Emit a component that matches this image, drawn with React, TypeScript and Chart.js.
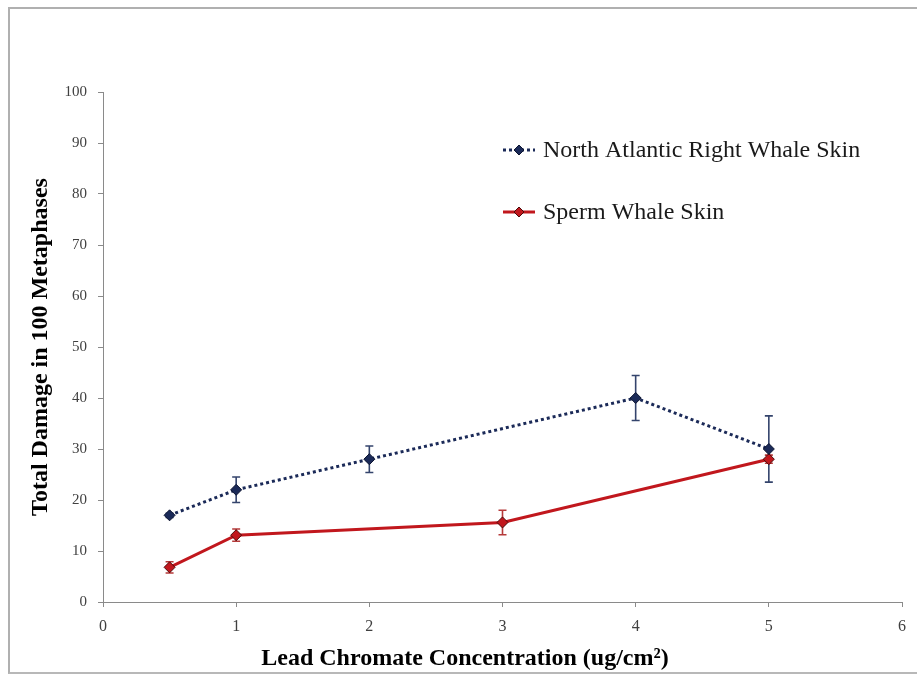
import React, { useEffect, useRef } from "react";
import { Chart, registerables } from "chart.js";

Chart.register(...registerables);

const narwConc = [0.5, 1, 2, 4, 5];
const narwValues = [17, 22, 28, 40, 30];
const narwErrors = [0.4, 2.5, 2.6, 4.4, 6.5];

const spermConc = [0.5, 1, 3, 5];
const spermValues = [6.8, 13.1, 15.6, 28];
const spermErrors = [1.1, 1.2, 2.4, 0.8];

const seriesLabels = ["North Atlantic Right Whale Skin", "Sperm Whale Skin"];
const xTitle = "Lead Chromate Concentration (ug/cm²)";
const yTitle = "Total Damage in 100 Metaphases";

const FONT = "'Liberation Serif', 'Times New Roman', serif";
const NAVY = "#1b2a58";
const NAVY_DARK = "#0c1430";
const RED = "#c1171d";
const RED_DARK = "#4a0a0a";

function drawDiamond(ctx: CanvasRenderingContext2D, x: number, y: number, r: number, fill: string, stroke: string) {
  ctx.beginPath();
  ctx.moveTo(x, y - r);
  ctx.lineTo(x + r, y);
  ctx.lineTo(x, y + r);
  ctx.lineTo(x - r, y);
  ctx.closePath();
  ctx.fillStyle = fill;
  ctx.fill();
  ctx.lineWidth = 1;
  ctx.strokeStyle = stroke;
  ctx.stroke();
}

const errorBarPlugin = {
  id: "errorBars",
  beforeDatasetsDraw(chart: any) {
    const ctx = chart.ctx;
    const xs = chart.scales.x;
    const ys = chart.scales.y;
    chart.data.datasets.forEach((ds: any) => {
      const errs: number[] = ds.errors || [];
      ctx.save();
      ctx.strokeStyle = ds.errorColor;
      ctx.lineWidth = 1.6;
      ds.data.forEach((p: any, j: number) => {
        const e = errs[j] || 0;
        const x = xs.getPixelForValue(p.x);
        const yt = ys.getPixelForValue(p.y + e);
        const yb = ys.getPixelForValue(p.y - e);
        ctx.beginPath();
        ctx.moveTo(x, yt);
        ctx.lineTo(x, yb);
        ctx.moveTo(x - 4, yt);
        ctx.lineTo(x + 4, yt);
        ctx.moveTo(x - 4, yb);
        ctx.lineTo(x + 4, yb);
        ctx.stroke();
      });
      ctx.restore();
    });
  },
};

const annotationPlugin = {
  id: "customTexts",
  afterDraw(chart: any) {
    const ctx = chart.ctx;
    const a = chart.chartArea;
    ctx.save();
    // x-axis title
    ctx.font = `bold 24px ${FONT}`;
    ctx.fillStyle = "#000";
    ctx.textAlign = "center";
    ctx.textBaseline = "middle";
    ctx.fillText(xTitle, a.left + a.width * 0.453, 659);

    // legend
    const entries = [
      { y: a.top + 58, dash: [3, 3], color: NAVY, fill: NAVY, stroke: NAVY_DARK },
      { y: a.top + 120, dash: [], color: RED, fill: RED, stroke: RED_DARK },
    ];
    const lx0 = a.left + 400;
    const lx1 = a.left + 432;
    entries.forEach((en, i) => {
      ctx.save();
      ctx.strokeStyle = en.color;
      ctx.lineWidth = 3;
      ctx.setLineDash(en.dash);
      ctx.beginPath();
      ctx.moveTo(lx0, en.y);
      ctx.lineTo(lx1, en.y);
      ctx.stroke();
      ctx.restore();
      drawDiamond(ctx, (lx0 + lx1) / 2, en.y, 5, en.fill, en.stroke);
      ctx.font = `24px ${FONT}`;
      ctx.fillStyle = "#1a1a1a";
      ctx.textAlign = "left";
      ctx.textBaseline = "middle";
      ctx.fillText(seriesLabels[i], lx1 + 8, en.y + 1);
    });
    ctx.restore();
  },
};

export default function App() {
  const ref = useRef<HTMLCanvasElement | null>(null);

  useEffect(() => {
    if (!ref.current) return;
    const chart = new Chart(ref.current, {
      type: "line",
      data: {
        datasets: [
          {
            label: seriesLabels[0],
            data: narwConc.map((x, i) => ({ x, y: narwValues[i] })),
            errors: narwErrors,
            errorColor: "#34446c",
            borderColor: NAVY,
            borderWidth: 3,
            borderDash: [3, 3],
            pointStyle: "rectRot",
            pointRadius: 5.5,
            pointBackgroundColor: NAVY,
            pointBorderColor: NAVY_DARK,
            pointBorderWidth: 1,
            tension: 0,
            fill: false,
          } as any,
          {
            label: seriesLabels[1],
            data: spermConc.map((x, i) => ({ x, y: spermValues[i] })),
            errors: spermErrors,
            errorColor: "#b53a3a",
            borderColor: RED,
            borderWidth: 3,
            pointStyle: "rectRot",
            pointRadius: 5.5,
            pointBackgroundColor: RED,
            pointBorderColor: RED_DARK,
            pointBorderWidth: 1,
            tension: 0,
            fill: false,
          } as any,
        ],
      },
      options: {
        animation: false,
        responsive: true,
        maintainAspectRatio: false,
        layout: { padding: { left: 20, top: 92, right: 15, bottom: 0 } },
        plugins: {
          legend: { display: false },
          tooltip: { enabled: false },
        },
        scales: {
          x: {
            type: "linear",
            min: 0,
            max: 6,
            ticks: { stepSize: 1, color: "#404040", font: { family: FONT, size: 16 }, padding: 10 },
            grid: { drawOnChartArea: false, drawTicks: true, tickLength: 5, color: "#8a8a8a" },
            border: { color: "#8a8a8a", width: 1 },
            afterFit: (s: any) => {
              s.height = 72;
            },
          },
          y: {
            type: "linear",
            min: 0,
            max: 100,
            ticks: { stepSize: 10, color: "#404040", font: { family: FONT, size: 15 }, padding: 11 },
            grid: { drawOnChartArea: false, drawTicks: true, tickLength: 5, color: "#8a8a8a" },
            border: { color: "#8a8a8a", width: 1 },
            title: {
              display: true,
              text: yTitle,
              color: "#000",
              font: { family: FONT, size: 24, weight: "bold" },
              padding: { top: 6, bottom: 0 },
            },
            afterFit: (s: any) => {
              s.width = 83;
            },
          },
        },
      } as any,
      plugins: [errorBarPlugin, annotationPlugin],
    });
    return () => chart.destroy();
  }, []);

  return (
    <div style={{ position: "fixed", left: 0, top: 0, width: 917, height: 674, background: "#fff" }}>
      <div
        style={{
          position: "absolute",
          left: 8,
          top: 7,
          width: 909,
          height: 667,
          borderTop: "2px solid #b0b0b0",
          borderLeft: "2px solid #b0b0b0",
          borderBottom: "2px solid #b8b8b8",
          boxSizing: "border-box",
        }}
      />
      <canvas ref={ref} style={{ position: "absolute", left: 0, top: 0, width: 917, height: 674 }} />
    </div>
  );
}
